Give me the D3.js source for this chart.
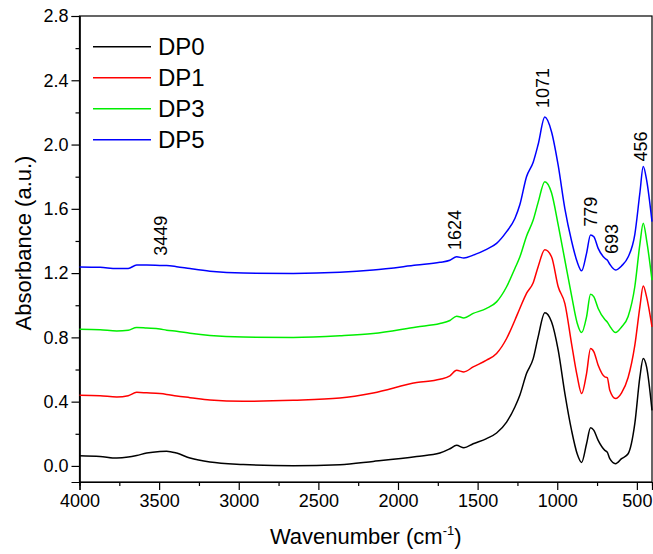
<!DOCTYPE html>
<html><head><meta charset="utf-8">
<script src="https://cdn.jsdelivr.net/npm/d3@7"></script>
<style>body{margin:0;background:#fff}svg{display:block}</style>
</head><body><svg id="c" width="653" height="554"></svg>
<script>
const wavenumbers = [4000,3871,3766,3694,3641,3578,3495,3453,3390,3306,3181,2972,2658,2365,2156,1883,1737,1674,1632,1586,1528,1444,1381,1318,1266,1235,1193,1151,1120,1078,1036,994,952,910,875,847,816,791,770,743,701,686,670,634,596,555,513,481,460,439,405];
const dp0 = [0.064,0.059,0.049,0.055,0.065,0.080,0.090,0.092,0.080,0.049,0.024,0.009,0.001,0.007,0.028,0.059,0.080,0.107,0.128,0.113,0.138,0.170,0.205,0.273,0.367,0.440,0.575,0.668,0.803,0.953,0.897,0.720,0.450,0.221,0.076,0.022,0.138,0.238,0.221,0.159,0.097,0.086,0.045,0.014,0.045,0.076,0.263,0.554,0.668,0.616,0.346];
const dp1 = [0.440,0.437,0.429,0.437,0.458,0.455,0.450,0.445,0.435,0.425,0.410,0.402,0.408,0.422,0.454,0.519,0.539,0.560,0.595,0.585,0.616,0.658,0.700,0.793,0.907,0.980,1.074,1.140,1.240,1.345,1.302,1.115,1.010,0.760,0.560,0.450,0.575,0.731,0.710,0.627,0.554,0.550,0.471,0.419,0.455,0.550,0.750,0.990,1.119,1.052,0.865];
const dp3 = [0.851,0.848,0.840,0.845,0.862,0.858,0.852,0.845,0.838,0.826,0.812,0.802,0.800,0.810,0.824,0.865,0.886,0.905,0.932,0.921,0.949,0.980,1.021,1.115,1.229,1.300,1.430,1.530,1.640,1.769,1.700,1.500,1.280,1.060,0.890,0.830,0.928,1.069,1.052,0.980,0.911,0.896,0.870,0.830,0.865,0.930,1.115,1.380,1.510,1.406,1.156];
const dp5 = [1.238,1.236,1.228,1.229,1.250,1.250,1.248,1.247,1.240,1.228,1.212,1.200,1.198,1.205,1.219,1.250,1.267,1.280,1.302,1.294,1.312,1.348,1.385,1.458,1.540,1.625,1.800,1.890,2.000,2.171,2.080,1.870,1.600,1.400,1.270,1.214,1.323,1.437,1.426,1.354,1.292,1.281,1.255,1.219,1.245,1.300,1.440,1.700,1.863,1.780,1.520];
const seriesNames = ["DP0","DP1","DP3","DP5"];
const seriesColors = ["#000000","#ff0000","#00ee00","#0000ff"];
const xTicks = [4000,3500,3000,2500,2000,1500,1000,500];
const xMinorTicks = [3750,3250,2750,2250,1750,1250,750];
const yTicks = [0.0,0.4,0.8,1.2,1.6,2.0,2.4,2.8];
const yMinorTicks = [0.2,0.6,1.0,1.4,1.8,2.2,2.6];
const peakLabels = ["3449","1624","1071","779","693","456"];
const peakX = [3492,1647,1090,790,659,479];
const peakY = [1.308,1.343,2.227,1.489,1.319,1.894];

const font = "'Liberation Sans', Arial, sans-serif";
const L = 79.5, R = 652, T = 16, B = 482;
const svg = d3.select("#c");
const x = d3.scaleLinear().domain([4000, 405]).range([L, R]);
const y = d3.scaleLinear().domain([-0.1, 2.8]).range([B, T]);

svg.append("rect").attr("x", L).attr("y", T).attr("width", R - L).attr("height", B - T)
  .attr("fill", "none").attr("stroke", "#000").attr("stroke-width", 1.2);

svg.append("g").attr("transform", `translate(0,${B})`)
  .call(d3.axisBottom(x).tickValues(xTicks).tickFormat(d3.format("d")).tickSize(8).tickPadding(4));
svg.append("g").attr("transform", `translate(0,${B})`)
  .call(d3.axisBottom(x).tickValues(xMinorTicks).tickFormat("").tickSize(4));
svg.append("g").attr("transform", `translate(${L},0)`)
  .call(d3.axisLeft(y).tickValues(yTicks).tickFormat(d3.format(".1f")).tickSize(8).tickPadding(3));
svg.append("g").attr("transform", `translate(${L},0)`)
  .call(d3.axisLeft(y).tickValues(yMinorTicks).tickFormat("").tickSize(4));
svg.selectAll(".domain").attr("stroke-width", 1.2);
svg.selectAll(".tick line").attr("stroke-width", 1.2);
svg.selectAll(".tick text").attr("font-family", font).attr("font-size", 18).attr("fill", "#000");

svg.append("text").attr("x", (L + R) / 2).attr("y", 544).attr("text-anchor", "middle")
  .attr("font-family", font).attr("font-size", 22)
  .call(t => { t.append("tspan").text("Wavenumber (cm");
               t.append("tspan").attr("dy", -9).attr("font-size", 13).text("-1");
               t.append("tspan").attr("dy", 9).text(")"); });
svg.append("text").attr("transform", `translate(23,${(T + B) / 2 - 6}) rotate(-90)`)
  .attr("text-anchor", "middle").attr("dy", "0.35em")
  .attr("font-family", font).attr("font-size", 22).text("Absorbance (a.u.)");

const seriesValues = [dp0, dp1, dp3, dp5];
const line = d3.line().x(d => x(d[0])).y(d => y(d[1])).curve(d3.curveMonotoneX);
seriesValues.forEach((vals, i) => {
  svg.append("path").datum(wavenumbers.map((w, j) => [w, vals[j]]))
    .attr("d", line).attr("fill", "none").attr("stroke", seriesColors[i]).attr("stroke-width", 1.5);
});

const legY = [46.7, 77.7, 108.7, 139.7];
seriesNames.forEach((n, i) => {
  svg.append("line").attr("x1", 93).attr("x2", 151).attr("y1", legY[i]).attr("y2", legY[i])
    .attr("stroke", seriesColors[i]).attr("stroke-width", 1.5);
  svg.append("text").attr("x", 158).attr("y", legY[i]).attr("dy", "0.36em")
    .attr("font-family", font).attr("font-size", 24).text(n);
});

peakLabels.forEach((lab, i) => {
  svg.append("text").attr("transform", `translate(${x(peakX[i])},${y(peakY[i])}) rotate(-90)`)
    .attr("text-anchor", "start").attr("dy", "0.35em")
    .attr("font-family", font).attr("font-size", 18).text(lab);
});
</script></body></html>
